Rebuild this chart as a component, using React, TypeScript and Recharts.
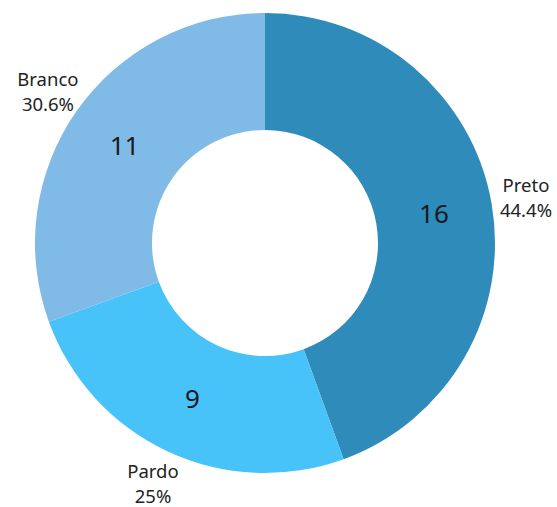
import React from "react";
import { PieChart, Pie, Cell } from "recharts";

const categories = ["Preto", "Pardo", "Branco"];
const values = [16, 9, 11];
const colors = ["#2E8BBA", "#48C3FA", "#80BBE8"];

const data = categories.map((name, i) => ({ name, value: values[i] }));

const RAD = Math.PI / 180;

const fmtPct = (p: number) => {
  const s = (p * 100).toFixed(1);
  return (s.endsWith(".0") ? s.slice(0, -2) : s) + "%";
};

const renderLabel = (props: any) => {
  const { cx, cy, midAngle, innerRadius, outerRadius, percent, name, value } = props;
  const rIn = (innerRadius + outerRadius) / 2;
  const xi = cx + rIn * Math.cos(-midAngle * RAD);
  const yi = cy + rIn * Math.sin(-midAngle * RAD);
  const rOut = outerRadius + 35;
  const xo = cx + rOut * Math.cos(-midAngle * RAD);
  const yo = cy + rOut * Math.sin(-midAngle * RAD);
  return (
    <g>
      <text
        x={xi}
        y={yi}
        textAnchor="middle"
        dominantBaseline="central"
        fontSize={26}
        fill="#1a1a1a"
        fontFamily="'Noto Sans', sans-serif"
      >
        {value}
      </text>
      <text
        x={xo}
        y={yo - 12.5}
        textAnchor="middle"
        dominantBaseline="central"
        fontSize={18.5}
        fill="#222"
        fontFamily="'Noto Sans', sans-serif"
      >
        {name}
      </text>
      <text
        x={xo}
        y={yo + 12.5}
        textAnchor="middle"
        dominantBaseline="central"
        fontSize={18.5}
        fill="#222"
        fontFamily="'Noto Sans', sans-serif"
      >
        {fmtPct(percent)}
      </text>
    </g>
  );
};

export default function App() {
  return (
    <div style={{ position: "absolute", left: 0, top: 0, background: "#fff" }}>
      <PieChart width={557} height={507} margin={{ top: 0, right: 0, bottom: 0, left: 0 }}>
        <Pie
          data={data}
          dataKey="value"
          nameKey="name"
          cx={265}
          cy={243}
          innerRadius={113}
          outerRadius={230}
          startAngle={90}
          endAngle={-270}
          stroke="none"
          label={renderLabel}
          labelLine={false}
          isAnimationActive={false}
        >
          {data.map((d, i) => (
            <Cell key={d.name} fill={colors[i]} />
          ))}
        </Pie>
      </PieChart>
    </div>
  );
}
